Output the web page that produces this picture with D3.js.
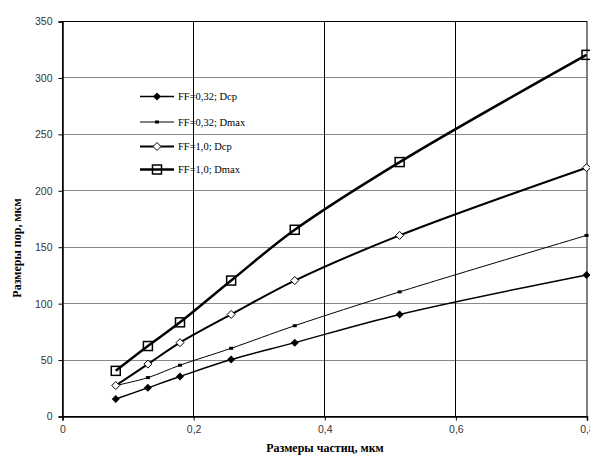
<!DOCTYPE html>
<html><head><meta charset="utf-8">
<script src="https://cdn.jsdelivr.net/npm/d3@7"></script>
<style>body{margin:0;background:#fff;}svg{display:block;}</style>
</head><body>
<svg id="c" width="590" height="457"></svg>
<script>
const particleSizes = [0.082, 0.131, 0.18, 0.258, 0.355, 0.515, 0.8];
const ff032Dcp  = [15, 25, 35, 50, 65, 90, 125];
const ff032Dmax = [27, 34, 45, 60, 80, 110, 160];
const ff10Dcp   = [27, 46, 65, 90, 120, 160, 220];
const ff10Dmax  = [40, 62, 83, 120, 165, 225, 320];
const seriesNames = ["FF=0,32; Dcp", "FF=0,32; Dmax", "FF=1,0; Dcp", "FF=1,0; Dmax"];
const xTickValues = [0, 0.2, 0.4, 0.6, 0.8];
const xTickLabels = ["0", "0,2", "0,4", "0,6", "0,8"];
const yTickValues = [0, 50, 100, 150, 200, 250, 300, 350];
const xTitle = "Размеры частиц, мкм";
const yTitle = "Размеры пор, мкм";

const series = [
  {name: seriesNames[0], values: ff032Dcp,  width: 1.5, marker: "diamondFilled"},
  {name: seriesNames[1], values: ff032Dmax, width: 1,   marker: "dash"},
  {name: seriesNames[2], values: ff10Dcp,   width: 2,   marker: "diamondOpen"},
  {name: seriesNames[3], values: ff10Dmax,  width: 2.5, marker: "square"}
];

const svg = d3.select("#c");
const L = 62, R = 586.5, T = 21, B = 416;
const x = d3.scaleLinear().domain([0, 0.8]).range([L, R]);
const y = d3.scaleLinear().domain([0, 350]).range([B, T]);

// horizontal gridlines
svg.append("g").selectAll("line").data(yTickValues.filter(v => v > 0 && v < 350)).join("line")
  .attr("x1", L).attr("x2", R).attr("y1", d => Math.round(y(d)) + 0.5).attr("y2", d => Math.round(y(d)) + 0.5)
  .attr("stroke", "#8a8a8a").attr("stroke-width", 1);
// vertical gridlines (black)
svg.append("g").selectAll("line").data(xTickValues.filter(v => v > 0 && v < 0.8)).join("line")
  .attr("x1", d => Math.round(x(d)) + 0.5).attr("x2", d => Math.round(x(d)) + 0.5)
  .attr("y1", T).attr("y2", B)
  .attr("stroke", "#000").attr("stroke-width", 1);
// frame
svg.append("rect").attr("x", L + 0.5).attr("y", T + 0.5).attr("width", R - L).attr("height", B - T)
  .attr("fill", "none").attr("stroke", "#000").attr("stroke-width", 1);

// axes
const yAxis = d3.axisLeft(y).tickValues(yTickValues).tickSize(4).tickPadding(6).tickFormat(d3.format("d"));
const gy = svg.append("g").attr("transform", `translate(${L + 0.5},0.5)`).call(yAxis);
const xAxis = d3.axisBottom(x).tickValues(xTickValues).tickSize(4).tickPadding(5)
  .tickFormat((d, i) => xTickLabels[i]);
const gx = svg.append("g").attr("transform", `translate(0.5,${B + 0.5})`).call(xAxis);
[gx, gy].forEach(g => {
  g.select(".domain").attr("stroke", "#000").attr("stroke-width", 1.5);
  g.selectAll(".tick line").attr("stroke", "#000");
  g.selectAll("text").attr("font-family", "Liberation Sans, Arial, sans-serif")
    .attr("font-size", 10.5).attr("fill", "#333");
});

// titles
svg.append("text").attr("x", 325).attr("y", 452).attr("text-anchor", "middle")
  .attr("font-family", "Liberation Serif, Times New Roman, serif").attr("font-weight", "bold")
  .attr("font-size", 12).attr("fill", "#000").text(xTitle);
svg.append("text").attr("transform", "translate(21,248) rotate(-90)").attr("text-anchor", "middle")
  .attr("font-family", "Liberation Serif, Times New Roman, serif").attr("font-weight", "bold")
  .attr("font-size", 12).attr("fill", "#000").text(yTitle);

function drawMarker(g, type, cx, cy) {
  if (type === "diamondFilled") {
    g.append("path").attr("d", `M${cx},${cy-4}L${cx+4},${cy}L${cx},${cy+4}L${cx-4},${cy}Z`).attr("fill", "#000");
  } else if (type === "diamondOpen") {
    g.append("path").attr("d", `M${cx},${cy-4}L${cx+4},${cy}L${cx},${cy+4}L${cx-4},${cy}Z`)
      .attr("fill", "#fff").attr("stroke", "#000").attr("stroke-width", 1);
  } else if (type === "square") {
    g.append("rect").attr("x", cx - 4.5).attr("y", cy - 4.5).attr("width", 9).attr("height", 9)
      .attr("fill", "none").attr("stroke", "#000").attr("stroke-width", 1.5);
  } else if (type === "dash") {
    g.append("rect").attr("x", cx - 2).attr("y", cy - 1.5).attr("width", 4).attr("height", 3).attr("fill", "#000");
  }
}

const line = d3.line().x(d => x(d[0])).y(d => y(d[1])).curve(d3.curveCatmullRom.alpha(0.5));
series.forEach(s => {
  const pts = particleSizes.map((p, i) => [p, s.values[i]]);
  const g = svg.append("g");
  g.append("path").attr("d", line(pts)).attr("fill", "none").attr("stroke", "#000").attr("stroke-width", s.width);
  pts.forEach(p => drawMarker(g, s.marker, x(p[0]), y(p[1])));
});

// legend
const legY = [96.5, 122, 146.5, 169.5];
series.forEach((s, i) => {
  const g = svg.append("g");
  g.append("line").attr("x1", 140).attr("x2", 174).attr("y1", legY[i]).attr("y2", legY[i])
    .attr("stroke", "#000").attr("stroke-width", s.width);
  drawMarker(g, s.marker, 157, legY[i]);
  g.append("text").attr("x", 178).attr("y", legY[i] + 3.5)
    .attr("font-family", "Liberation Serif, Times New Roman, serif").attr("font-size", 10.5)
    .attr("fill", "#000").text(s.name);
});
</script>
</body></html>
